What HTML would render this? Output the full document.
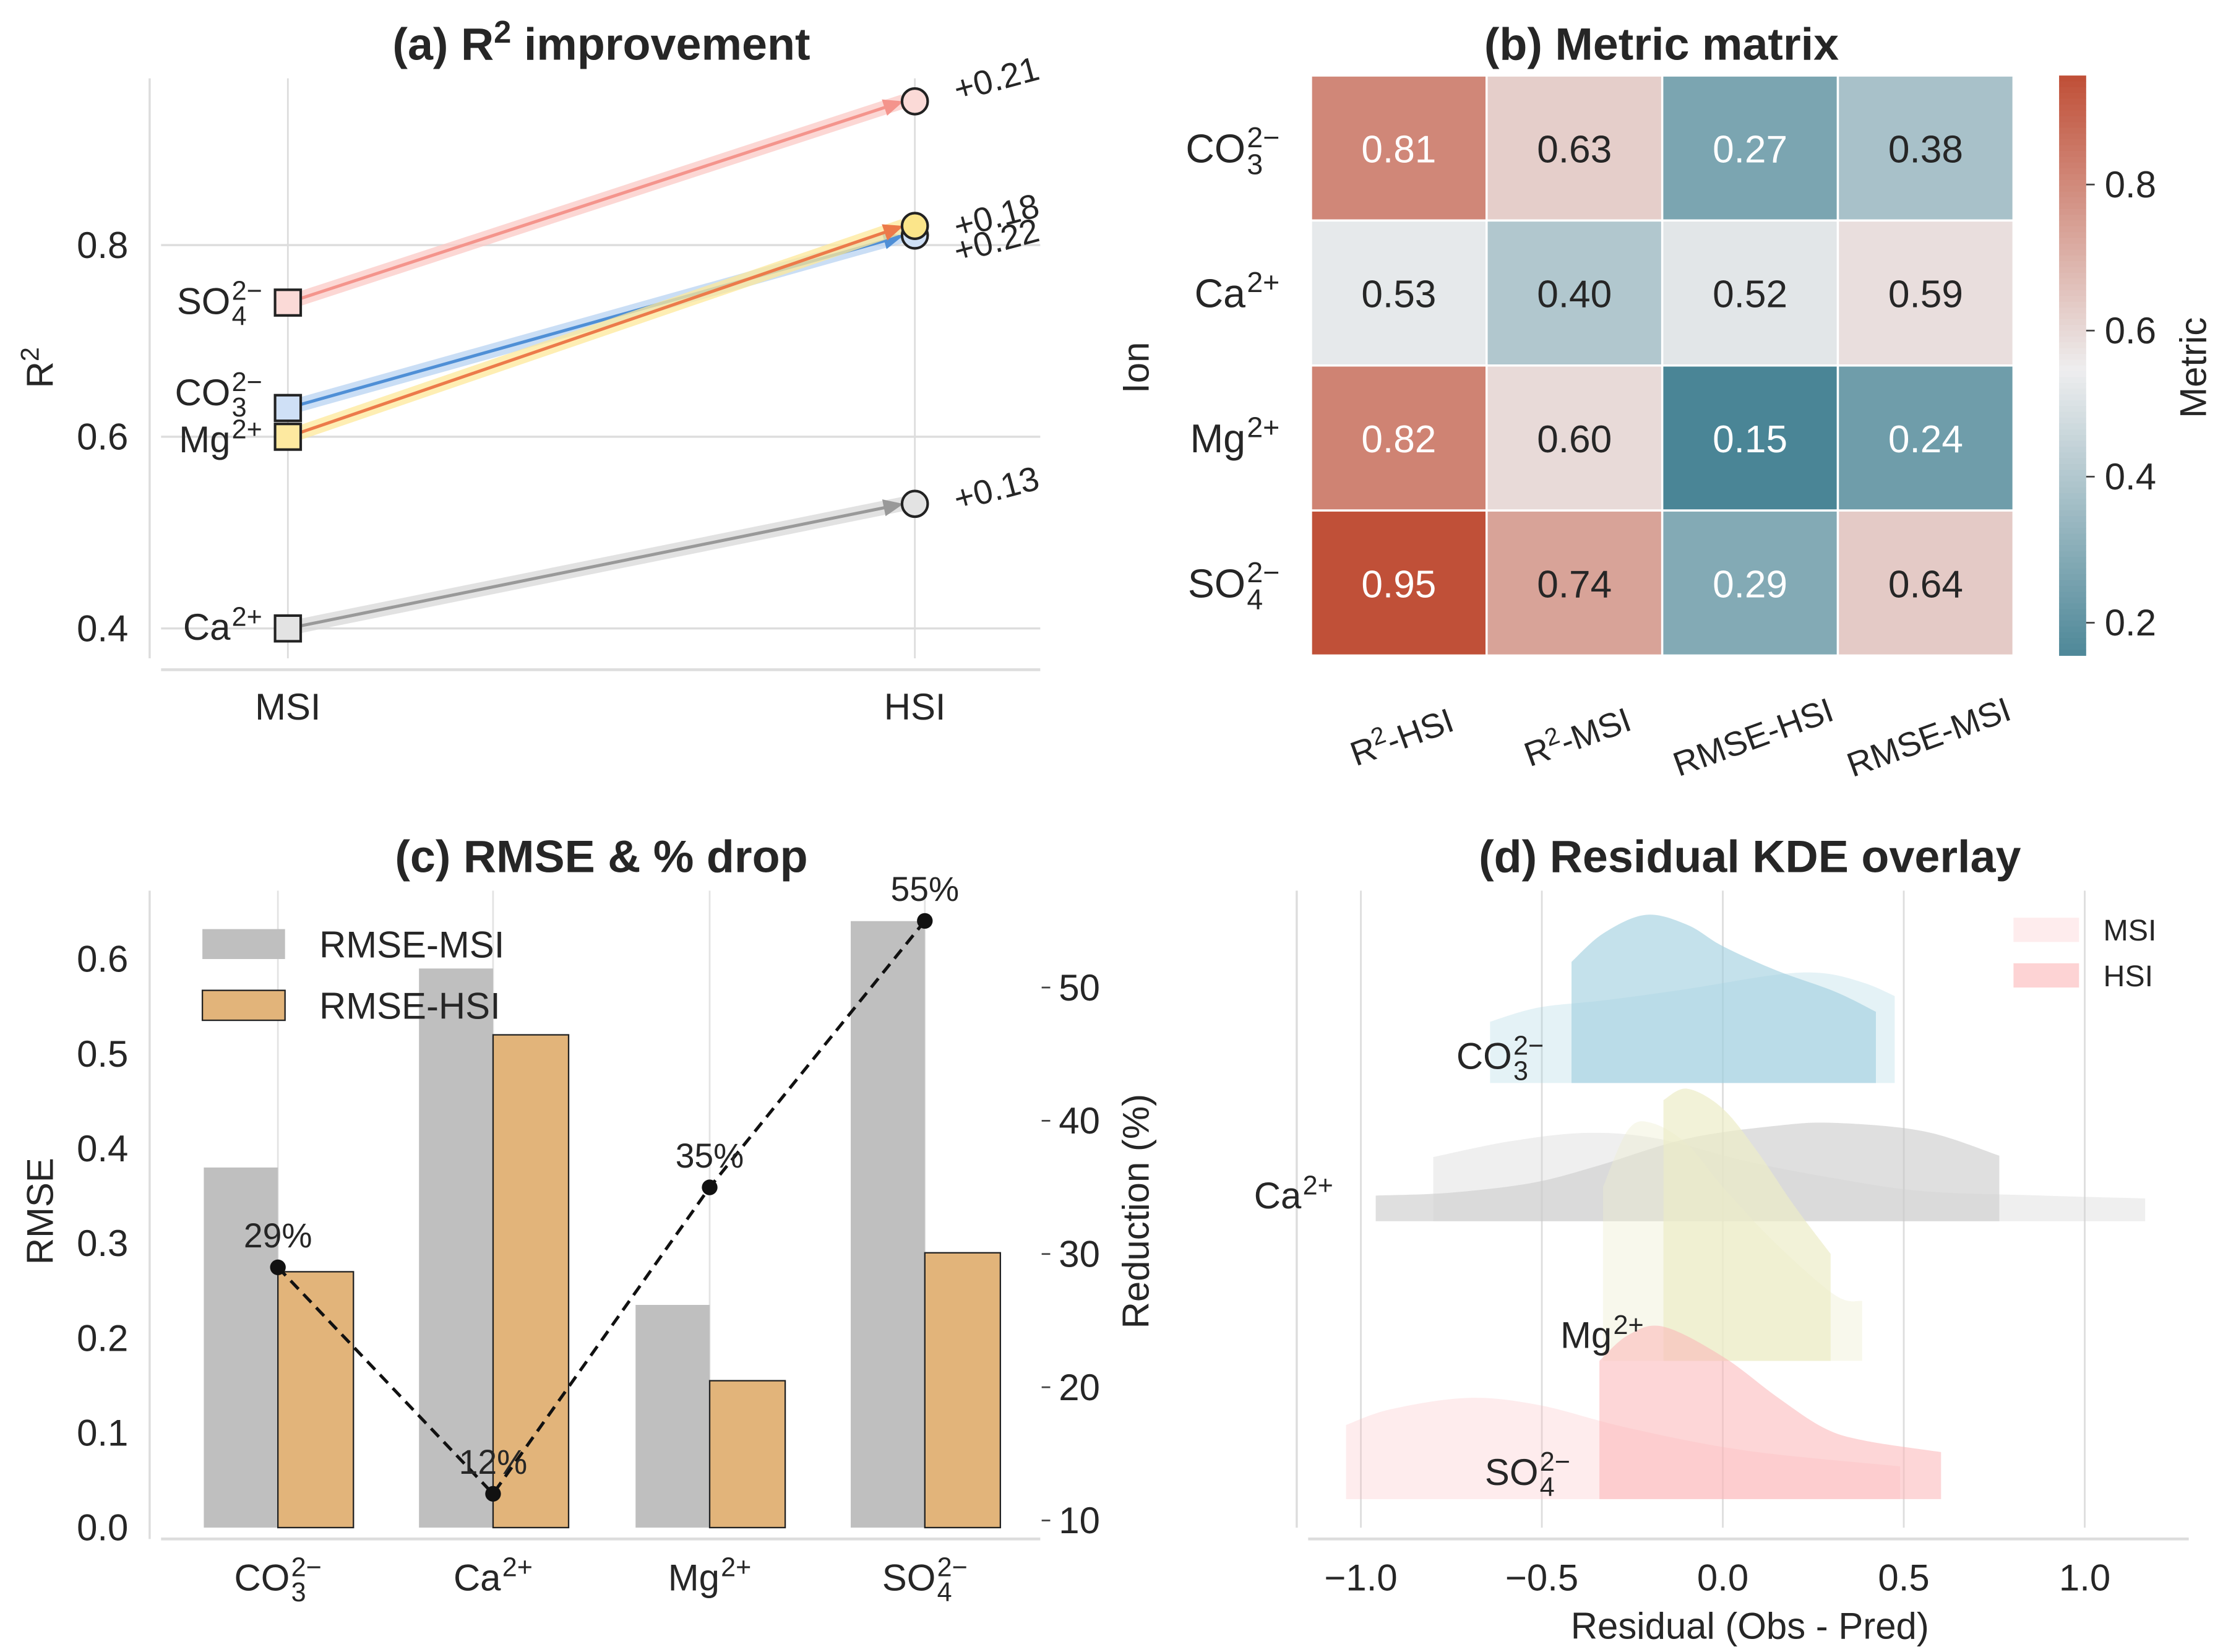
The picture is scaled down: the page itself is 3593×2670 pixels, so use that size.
<!DOCTYPE html>
<html><head><meta charset="utf-8"><style>
html,body{margin:0;padding:0;background:#fff}
svg{display:block}
text{font-family:"Liberation Sans",Arial,sans-serif;fill:#262626}
</style></head><body>
<svg id="chart" xmlns="http://www.w3.org/2000/svg" width="3593" height="2670" viewBox="0 0 1560 1159.3">
<rect width="1560" height="1160" fill="#fff"/>
<g id="pa"></g>
<g id="pb"></g>
<g id="pc"></g>
<g id="pd"></g>
</svg>
<script>
// ---------- data ----------
const ions = ["CO3","Ca","Mg","SO4"];
const r2Msi = [0.63, 0.40, 0.60, 0.74];
const r2Hsi = [0.81, 0.53, 0.82, 0.95];
const r2Ticks = [0.4, 0.6, 0.8];
const metricCols = ["R2-HSI","R2-MSI","RMSE-HSI","RMSE-MSI"];
const mCO3 = [0.81, 0.63, 0.27, 0.38];
const mCa  = [0.53, 0.40, 0.52, 0.59];
const mMg  = [0.82, 0.60, 0.15, 0.24];
const mSO4 = [0.95, 0.74, 0.29, 0.64];
const cbarTicks = [0.2, 0.4, 0.6, 0.8];
const rmseMsi = [0.38, 0.59, 0.235, 0.64];
const rmseHsi = [0.27, 0.52, 0.155, 0.29];
const reduction = [29, 12, 35, 55];
const rmseTicks = [0.0,0.1,0.2,0.3,0.4,0.5,0.6];
const redTicks = [10,20,30,40,50];
const resTicks = [-1.0,-0.5,0.0,0.5,1.0];
// KDE curves: residual x, density
const kCO3HsiX = [-0.418,-0.33,-0.213,-0.098,0,0.148,0.311,0.423];
const kCO3HsiD = [0.85,1.05,1.18,1.11,0.96,0.79,0.64,0.50];
const kCO3MsiX = [-0.643,-0.508,-0.328,-0.098,0.148,0.279,0.393,0.475];
const kCO3MsiD = [0.43,0.53,0.58,0.66,0.76,0.77,0.70,0.61];
const kCaHsiX = [-0.959,-0.754,-0.525,-0.344,-0.098,0.148,0.311,0.557,0.764];
const kCaHsiD = [0.18,0.20,0.27,0.39,0.58,0.67,0.69,0.63,0.46];
const kCaMsiX = [-0.80,-0.59,-0.377,-0.18,0.066,0.311,0.557,0.885,1.167];
const kCaMsiD = [0.45,0.56,0.62,0.58,0.42,0.30,0.21,0.18,0.16];
const kMgHsiX = [-0.164,-0.098,0,0.098,0.197,0.298];
const kMgHsiD = [1.83,1.91,1.77,1.46,1.09,0.75];
const kMgMsiX = [-0.331,-0.262,-0.197,-0.098,0,0.148,0.311,0.385];
const kMgMsiD = [1.22,1.62,1.67,1.52,1.22,0.82,0.46,0.42];
const kSO4HsiX = [-0.341,-0.262,-0.164,0,0.148,0.279,0.393,0.603];
const kSO4HsiD = [0.97,1.15,1.21,1.00,0.72,0.50,0.41,0.33];
const kSO4MsiX = [-1.041,-0.918,-0.705,-0.508,-0.262,0.066,0.49];
const kSO4MsiD = [0.52,0.63,0.71,0.66,0.50,0.34,0.23];

const NS="http://www.w3.org/2000/svg";
function el(tag,attrs,parent){const e=document.createElementNS(NS,tag);for(const k in attrs)e.setAttribute(k,attrs[k]);parent.appendChild(e);return e;}
const ionParts={CO3:["CO","3","2\u2212"],Ca:["Ca","","2+"],Mg:["Mg","","2+"],SO4:["SO","4","2\u2212"]};
function ionLabel(parent,ion,x,y,fs,anchor,name){
  const g=el("g",{},parent);
  
  
  const p=ionParts[ion];
  const b=el("text",{x:0,y:0,"font-size":fs},g);b.textContent=p[0];
  const w=b.getComputedTextLength();
  const s=el("text",{x:w+1,y:-fs*0.38,"font-size":fs*0.72},g);s.textContent=p[2];
  let ws=s.getComputedTextLength(),wb=0;
  if(p[1]){const sb=el("text",{x:w+1,y:fs*0.3,"font-size":fs*0.72},g);sb.textContent=p[1];wb=sb.getComputedTextLength();}
  const tw=w+1+Math.max(ws,wb);
  const dx=anchor==="end"?-tw:anchor==="middle"?-tw/2:0;
  g.setAttribute("transform",`translate(${x+dx},${y})`);
  return g;
}
function txt(parent,s,x,y,fs,opts,name){const t=el("text",Object.assign({x:x,y:y,"font-size":fs},opts||{}),parent);t.textContent=s;return t;}

// ---------- Panel A ----------
(function(){
const P=document.getElementById("pa");
const yA=v=>441-(v-0.4)/0.2*134.5;
const xMsi=202,xHsi=642;
el("line",{x1:105,y1:55,x2:105,y2:462,stroke:"#ddd","stroke-width":1.5},P);
el("line",{x1:113,y1:470,x2:730,y2:470,stroke:"#ddd","stroke-width":2},P);
[xMsi,xHsi].forEach(x=>el("line",{x1:x,y1:55,x2:x,y2:462,stroke:"#ddd","stroke-width":1.2},P));
r2Ticks.forEach(v=>{const l=el("line",{x1:113,y1:yA(v),x2:730,y2:yA(v),stroke:"#ddd","stroke-width":1.5},P);
 
 txt(P,v.toFixed(1),90,yA(v)+9,26,{"text-anchor":"end"},"y-tick-label");});
txt(P,"MSI",xMsi,505,26,{"text-anchor":"middle"},"x-tick-msi");
txt(P,"HSI",xHsi,505,26,{"text-anchor":"middle"},"x-tick-hsi");
const yl=el("text",{x:0,y:0,"font-size":26,transform:"translate(37,258) rotate(-90)","text-anchor":"middle"},P);
yl.innerHTML='R<tspan font-size="18" dy="-10">2</tspan>';

const tt=el("text",{x:422,y:42,"font-size":32,"font-weight":"bold","text-anchor":"middle"},P);
tt.innerHTML='(a) R<tspan font-size="22" dy="-12">2</tspan><tspan dy="12"> improvement</tspan>';

const band={CO3:"#b8d3f2",Ca:"#d8d8d8",Mg:"#fde89a",SO4:"#fbc9c6"};
const line={CO3:"#4f8fd6",Ca:"#999999",Mg:"#ec7a4a",SO4:"#f4948c"};
const fill={CO3:"#cfe0f6",Ca:"#e3e3e3",Mg:"#fde9a0",SO4:"#fbdad7"};
const hfill={CO3:"#cfe0f6",Ca:"#e3e3e3",Mg:"#fbe58a",SO4:"#fbdad7"};
const order=[1,0,2,3];
order.forEach(i=>{const k=ions[i];
 const x1=xMsi,y1=yA(r2Msi[i]),x2=xHsi-8,y2=yA(r2Hsi[i]);
 const b=el("line",{x1:x1,y1:y1,x2:x2,y2:y2,stroke:band[k],"stroke-width":10,"stroke-opacity":0.75},P);
 
 const l=el("line",{x1:x1,y1:y1,x2:x2-8,y2:y2+8*(y1-y2)/(x2-x1),stroke:line[k],"stroke-width":2.2},P);
 
 const ang=Math.atan2(y2-y1,x2-x1);
 const ax=x2,ay=y2;const bx=ax-14*Math.cos(ang),by=ay-14*Math.sin(ang);
 const px=-Math.sin(ang)*6,py=Math.cos(ang)*6;
 const h=el("polygon",{points:`${ax},${ay} ${bx+px},${by+py} ${bx-px},${by-py}`,fill:line[k]},P);
 
});
order.forEach(i=>{const k=ions[i];
 const s=el("rect",{x:xMsi-9,y:yA(r2Msi[i])-9,width:18,height:18,fill:fill[k],stroke:"#222","stroke-width":1.8},P);
 
});
[1,0,2,3].forEach(i=>{const k=ions[i];
 const c=el("circle",{cx:xHsi,cy:yA(r2Hsi[i]),r:9,fill:hfill[k],stroke:"#222","stroke-width":1.8},P);
 
});
const lblOff={CO3:[0,-2],Ca:[0,8],Mg:[0,11],SO4:[0,8]};
ions.forEach((k,i)=>ionLabel(P,k,184,yA(r2Msi[i])+lblOff[k][1],26,"end","ion-label-"+k));
const dOff={CO3:-6,Ca:-3,Mg:18,SO4:-8};
ions.forEach((k,i)=>{const d=r2Hsi[i]-r2Msi[i];
 const y=yA(r2Hsi[i])+dOff[k]+8;
 txt(P,"+"+d.toFixed(2),672,y,24,{transform:`rotate(-15 672 ${y})`},"delta-label-"+k);});
})();

// ---------- Panel B ----------
(function(){
const P=document.getElementById("pb");
const rows=[mCO3,mCa,mMg,mSO4];
const x0=920,y0=53,cw=123.25,ch=101.75;
function col(v){const lo=[74,133,150],mid=[238,238,239],hi=[192,80,56];
 let a,b,t;if(v<0.55){a=lo;b=mid;t=(v-0.15)/0.4;}else{a=mid;b=hi;t=(v-0.55)/0.4;}
 t=Math.max(0,Math.min(1,t));return `rgb(${a.map((c,j)=>Math.round(c+(b[j]-c)*t)).join(",")})`;}
rows.forEach((r,i)=>r.forEach((v,j)=>{
 const c=el("rect",{x:x0+j*cw,y:y0+i*ch,width:cw,height:ch,fill:col(v),stroke:"#fff","stroke-width":1.5},P);
 
 txt(P,v.toFixed(2),x0+j*cw+cw/2,y0+i*ch+ch/2+10,27,{"text-anchor":"middle",style:"fill:"+(Math.abs(v-0.55)>0.22?"#fff":"#262626")},"cell-value");
}));
ions.forEach((k,i)=>ionLabel(P,k,898,y0+i*ch+ch/2+10,28,"end","row-label-"+k));
const yl=txt(P,"Ion",0,0,26,{transform:"translate(806,258) rotate(-90)","text-anchor":"middle"},"y-axis-title");
const clab=[['R','2','-HSI'],['R','2','-MSI'],['RMSE-HSI','',''],['RMSE-MSI','','']];
clab.forEach((c,j)=>{const cx=x0+j*cw+cw/2+5,cy=525;
 const t=el("text",{x:cx,y:cy,"font-size":24,"text-anchor":"middle",transform:`rotate(-20 ${cx} ${cy})`},P);
 t.innerHTML=c[1]?`${c[0]}<tspan font-size="17" dy="-9">${c[1]}</tspan><tspan dy="9">${c[2]}</tspan>`:c[0];
 });
const tt=txt(P,"(b) Metric matrix",1166,42,32,{"font-weight":"bold","text-anchor":"middle"},"panel-b-title");
const cb=el("g",{},P);
const yC=v=>437-(v-0.2)/0.2*102.5;
const vTop=0.2+(437-53)/512.5,vBot=0.2-(460-437)/512.5;
for(let k=0;k<100;k++){const v=vTop-(vTop-vBot)*k/100;el("rect",{x:1445,y:53+k*4.07,width:19,height:4.3,fill:col(v)},cb);}
cbarTicks.forEach(v=>{el("line",{x1:1464,y1:yC(v),x2:1470,y2:yC(v),stroke:"#444","stroke-width":1.2},cb);
 txt(cb,v.toFixed(1),1477,yC(v)+9,26,{},"colorbar-tick");});
txt(P,"Metric",0,0,26,{transform:"translate(1548,258) rotate(-90)","text-anchor":"middle"},"colorbar-title");
})();

// ---------- Panel C ----------
(function(){
const P=document.getElementById("pc");
const yL=v=>1072-v/0.1*66.5;
const yR=v=>1067-(v-10)/10*93.5;
const xs=[195,346,498,649];
el("line",{x1:105,y1:625,x2:105,y2:1080,stroke:"#ddd","stroke-width":1.5},P);
el("line",{x1:113,y1:1080,x2:730,y2:1080,stroke:"#ddd","stroke-width":2},P);
xs.forEach(x=>el("line",{x1:x,y1:625,x2:x,y2:1072,stroke:"#e3e3e3","stroke-width":1.2},P));
rmseTicks.forEach(v=>txt(P,v.toFixed(1),90,yL(v)+9,26,{"text-anchor":"end"},"y-tick-label"));
redTicks.forEach(v=>{el("line",{x1:731,y1:yR(v),x2:737,y2:yR(v),stroke:"#444","stroke-width":1.2},P);
 txt(P,String(v),743,yR(v)+9,26,{},"y2-tick-label");});
xs.forEach((x,i)=>{
 const a=el("rect",{x:x-52,y:yL(rmseMsi[i]),width:52,height:yL(0)-yL(rmseMsi[i]),fill:"#bfbfbf"},P);
 
 const b=el("rect",{x:x,y:yL(rmseHsi[i]),width:53,height:yL(0)-yL(rmseHsi[i]),fill:"#e2b47a",stroke:"#222","stroke-width":1},P);
 
});
const pts=xs.map((x,i)=>`${x},${yR(reduction[i])}`).join(" ");
const pl=el("polyline",{points:pts,fill:"none",stroke:"#111","stroke-width":2.2,"stroke-dasharray":"8,5"},P);

xs.forEach((x,i)=>{const c=el("circle",{cx:x,cy:yR(reduction[i]),r:5.5,fill:"#111"},P);
 
 txt(P,reduction[i]+"%",x,yR(reduction[i])-14,24,{"text-anchor":"middle"},"reduction-label");});
ions.forEach((k,i)=>ionLabel(P,k,xs[i],1116,26,"middle","x-tick-"+k));
txt(P,"RMSE",0,0,26,{transform:"translate(37,850) rotate(-90)","text-anchor":"middle"},"y-axis-title");
txt(P,"Reduction (%)",0,0,26,{transform:"translate(806,850) rotate(-90)","text-anchor":"middle"},"y2-axis-title");
txt(P,"(c) RMSE & % drop",422,612,32,{"font-weight":"bold","text-anchor":"middle"},"panel-c-title");
const lg=el("g",{},P);
el("rect",{x:142,y:652,width:58,height:21,fill:"#bfbfbf"},lg);
txt(lg,"RMSE-MSI",224,672,26,{},"legend-msi");
el("rect",{x:142,y:695,width:58,height:21,fill:"#e2b47a",stroke:"#222","stroke-width":1},lg);
txt(lg,"RMSE-HSI",224,715,26,{},"legend-hsi");
})();

// ---------- Panel D ----------
(function(){
const P=document.getElementById("pd");
const xD=v=>1209+v*254;
const base=[760,857,955,1052];
const sc=100;
el("line",{x1:910,y1:625,x2:910,y2:1072,stroke:"#ddd","stroke-width":1.5},P);
el("line",{x1:918,y1:1080,x2:1536,y2:1080,stroke:"#ddd","stroke-width":2},P);
resTicks.forEach(v=>{const l=el("line",{x1:xD(v),y1:625,x2:xD(v),y2:1072,stroke:"#ddd","stroke-width":1.2},P);
 
 txt(P,(v<0?"\u2212":"")+Math.abs(v).toFixed(1),xD(v),1116,26,{"text-anchor":"middle"},"x-tick-label");});
const series=[
 [kCO3MsiX,kCO3MsiD,0,"#9fcfdf",0.28,"CO3-msi"],[kCO3HsiX,kCO3HsiD,0,"#9fcfdf",0.62,"CO3-hsi"],
 [kCaHsiX,kCaHsiD,1,"#c4c4c4",0.55,"Ca-hsi"],[kCaMsiX,kCaMsiD,1,"#d0d0d0",0.35,"Ca-msi"],
 [kMgMsiX,kMgMsiD,2,"#eeeed0",0.4,"Mg-msi"],[kMgHsiX,kMgHsiD,2,"#ecedc8",0.7,"Mg-hsi"],
 [kSO4MsiX,kSO4MsiD,3,"#fbbcbd",0.28,"SO4-msi"],[kSO4HsiX,kSO4HsiD,3,"#fbb4b6",0.55,"SO4-hsi"]];
series.forEach(s=>{const X=s[0],D=s[1],b=base[s[2]];
 const pts=X.map((x,i)=>[xD(x),b-D[i]*sc]);
 let d=`M${pts[0][0]},${b} L${pts[0][0]},${pts[0][1]}`;
 const n=pts.length;
 for(let i=0;i<n-1;i++){
  const p0=pts[Math.max(0,i-1)],p1=pts[i],p2=pts[i+1],p3=pts[Math.min(n-1,i+2)];
  const c1=[p1[0]+(p2[0]-p0[0])/6,p1[1]+(p2[1]-p0[1])/6];
  const c2=[p2[0]-(p3[0]-p1[0])/6,p2[1]-(p3[1]-p1[1])/6];
  d+=` C${c1[0]},${c1[1]} ${c2[0]},${c2[1]} ${p2[0]},${p2[1]}`;}
 d+=` L${pts[n-1][0]},${b} Z`;
 const p=el("path",{d:d,fill:s[3],"fill-opacity":s[4]},P);
 
});
ionLabel(P,"CO3",1022,750,26,"start","ridge-label-CO3");
ionLabel(P,"Ca",880,848,26,"start","ridge-label-Ca");
ionLabel(P,"Mg",1095,946,26,"start","ridge-label-Mg");
ionLabel(P,"SO4",1042,1042,26,"start","ridge-label-SO4");
txt(P,"Residual (Obs - Pred)",1228,1150,26,{"text-anchor":"middle"},"x-axis-title");
txt(P,"(d) Residual KDE overlay",1228,612,32,{"font-weight":"bold","text-anchor":"middle"},"panel-d-title");
const lg=el("g",{},P);
el("rect",{x:1413,y:644,width:46,height:17,fill:"#feeced"},lg);
txt(lg,"MSI",1476,660,21,{},"legend-msi");
el("rect",{x:1413,y:676,width:46,height:17,fill:"#fdd3d4"},lg);
txt(lg,"HSI",1476,692,21,{},"legend-hsi");
})();
</script>
</body></html>
